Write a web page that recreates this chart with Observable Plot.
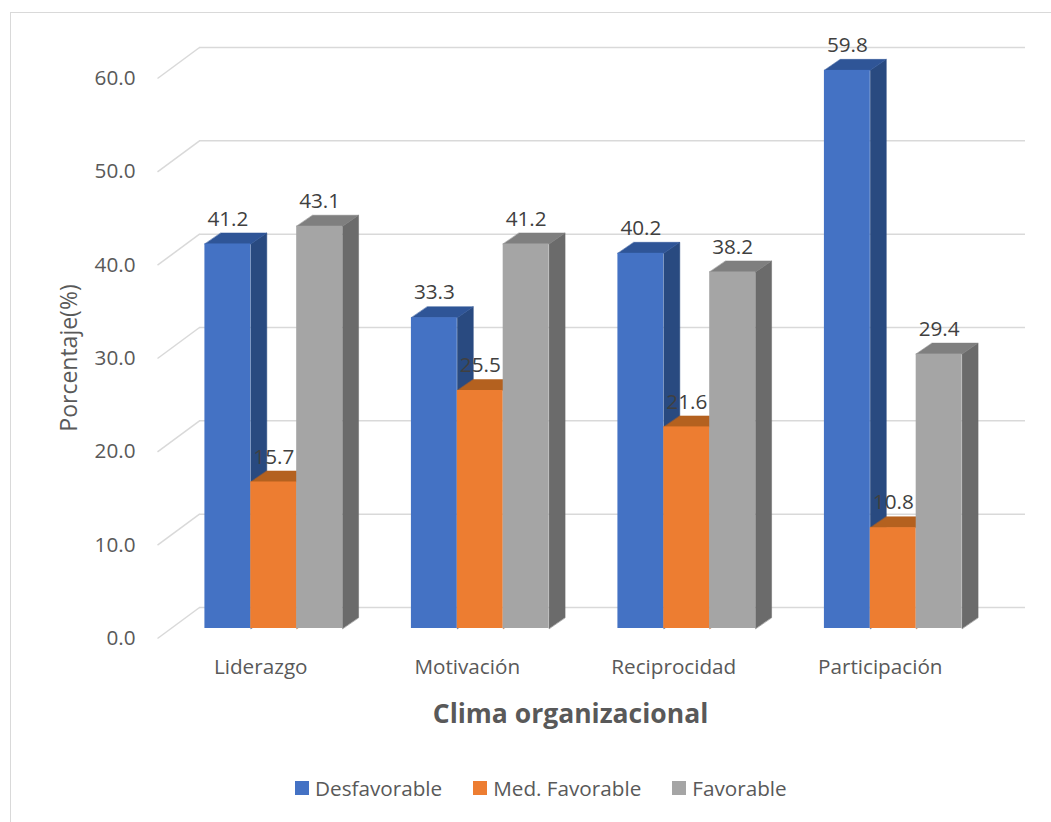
<!DOCTYPE html>
<html>
<head>
<meta charset="utf-8">
<script src="https://cdn.jsdelivr.net/npm/d3@7"></script>
<script src="https://cdn.jsdelivr.net/npm/@observablehq/plot@0.6"></script>
<style>
  html, body { margin: 0; padding: 0; background: #fff; }
  #wrap { position: relative; width: 1051px; height: 822px; overflow: hidden; font-family: "Open Sans", sans-serif; }
  #frame { position: absolute; left: 10px; top: 12px; width: 1060px; height: 830px; border-left: 1.5px solid #d9d9d9; border-top: 1.5px solid #d9d9d9; }
  #chart { position: absolute; left: 0; top: 0; }
  #ylabel { position: absolute; left: 68px; top: 358px; transform: translate(-50%, -50%) rotate(-90deg); font-size: 23px; color: #595959; white-space: nowrap; }
  #xtitle { position: absolute; left: 0; width: 1141px; top: 695px; text-align: center; font-size: 26.5px; font-weight: bold; color: #595959; }
  #legend { position: absolute; left: 295px; top: 774px; display: flex; gap: 31px; font-size: 20.7px; color: #595959; }
  #legend .item { display: flex; align-items: center; }
  #legend .sw { width: 14px; height: 14px; margin-right: 6px; }
</style>
</head>
<body>
<div id="wrap">
  <div id="frame"></div>
  <div id="chart"></div>
  <div id="ylabel">Porcentaje(%)</div>
  <div id="xtitle">Clima organizacional</div>
  <div id="legend"></div>
</div>
<script>
// ---- data ----
const categories = ["Liderazgo", "Motivación", "Reciprocidad", "Participación"];
const series = ["Desfavorable", "Med. Favorable", "Favorable"];
const desfavorable = [41.2, 33.3, 40.2, 59.8];
const medFavorable = [15.7, 25.5, 21.6, 10.8];
const favorable = [43.1, 41.2, 38.2, 29.4];
const yTicks = [0, 10, 20, 30, 40, 50, 60];

const frontColors = ["#4472C4", "#ED7D31", "#A5A5A5"];
const topColors = ["#2F5597", "#B4611F", "#7F7F7F"];
const sideColors = ["#294A80", "#AE5A21", "#6B6B6B"];

const values = [desfavorable, medFavorable, favorable];

// ---- layout ----
const W = 1051, H = 700, ML = 157, MR = 68, MT = 78, MB = 62;
const yMax = 60;
const pxPerX = (W - ML - MR) / categories.length;
const pxPerY = (H - MT - MB) / yMax;
const off = (px, py) => ({x: px / pxPerX, y: py / pxPerY});
const wall = off(42, 31);
const front = off(13, 10);
const back = off(29, 21);
const gap = 1 / 6, bw = (1 - 2 * gap) / series.length;

const rows = categories.flatMap((c, ci) => series.map((s, si) => {
  const x1 = ci + gap + si * bw;
  return {c, s, si, v: values[si][ci], x1, x2: x1 + bw};
}));

const sidePts = rows.flatMap((d, i) => [
  {id: i, si: d.si, x: d.x2 + front.x, y: front.y},
  {id: i, si: d.si, x: d.x2 + front.x, y: d.v + front.y},
  {id: i, si: d.si, x: d.x2 + back.x, y: d.v + back.y},
  {id: i, si: d.si, x: d.x2 + back.x, y: back.y}
]);
const topPts = rows.flatMap((d, i) => [
  {id: i, si: d.si, x: d.x1 + front.x, y: d.v + front.y},
  {id: i, si: d.si, x: d.x2 + front.x, y: d.v + front.y},
  {id: i, si: d.si, x: d.x2 + back.x, y: d.v + back.y},
  {id: i, si: d.si, x: d.x1 + back.x, y: d.v + back.y}
]);

const marks = [
  Plot.ruleY(yTicks, {y: d => d + wall.y, x1: wall.x, x2: categories.length + wall.x, stroke: "#d9d9d9", strokeWidth: 1.5}),
  Plot.link(yTicks, {x1: 0, y1: d => d, x2: wall.x, y2: d => d + wall.y, stroke: "#d9d9d9", strokeWidth: 1.5}),
];
series.forEach((s, si) => {
  marks.push(Plot.line(sidePts.filter(p => p.si === si), {x: "x", y: "y", z: "id", curve: "linear-closed", fill: sideColors[si], stroke: sideColors[si], strokeWidth: 0.5}));
});
series.forEach((s, si) => {
  marks.push(Plot.line(topPts.filter(p => p.si === si), {x: "x", y: "y", z: "id", curve: "linear-closed", fill: topColors[si], stroke: topColors[si], strokeWidth: 0.5}));
});
marks.push(
  Plot.rect(rows, {x1: d => d.x1 + front.x, x2: d => d.x2 + front.x, y1: front.y, y2: d => d.v + front.y, fill: "s", inset: 0}),
  Plot.text(rows, {x: d => (d.x1 + d.x2) / 2 + front.x, y: d => d.v + front.y, text: d => d.v.toFixed(1), dy: -25, fontSize: 20.7, fill: "#404040"}),
  Plot.axisY({ticks: yTicks, tickSize: 0, tickPadding: 22, tickFormat: d => d.toFixed(1), fontSize: 20.7, fill: "#595959", label: null}),
  Plot.axisX({ticks: categories.map((c, i) => i + 0.5), tickFormat: t => categories[Math.floor(t)], tickSize: 0, tickPadding: 21, fontSize: 20.7, fill: "#595959", label: null})
);

const chart = Plot.plot({
  width: W, height: H,
  marginLeft: ML, marginRight: MR, marginTop: MT, marginBottom: MB,
  style: {fontFamily: "'Open Sans', sans-serif", background: "transparent", overflow: "visible"},
  x: {domain: [0, categories.length], axis: null},
  y: {domain: [0, yMax], axis: null},
  color: {domain: series, range: frontColors},
  marks
});
document.getElementById("chart").appendChild(chart);

const legend = document.getElementById("legend");
series.forEach((s, i) => {
  const item = document.createElement("div");
  item.className = "item";
  const sw = document.createElement("span");
  sw.className = "sw";
  sw.style.background = frontColors[i];
  item.appendChild(sw);
  item.appendChild(document.createTextNode(s));
  legend.appendChild(item);
});
</script>
</body>
</html>
